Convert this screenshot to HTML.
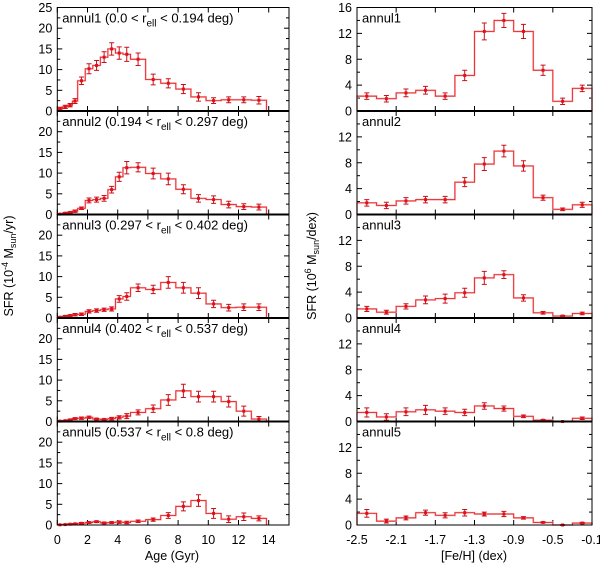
<!DOCTYPE html>
<html><head><meta charset="utf-8"><style>
html,body{margin:0;padding:0;background:#fff;}
svg{display:block;font-family:"Liberation Sans",Arial,sans-serif;}
</style></head><body>
<svg id="chart" width="600" height="567" viewBox="0 0 600 567"></svg>
<script>
// ---- data ----
const ageEdges = [0,0.35,0.7,1.0,1.35,1.85,2.35,2.85,3.35,3.85,4.35,4.85,5.85,6.85,7.85,8.85,9.85,10.85,11.85,12.85,13.85];
const ageVals1 = [0.6,1.0,1.4,2.4,7.3,10.2,11.0,13.0,15.0,14.0,13.7,12.5,7.6,6.7,5.3,3.4,2.5,2.7,2.7,2.6];
const ageErr1  = [0.3,0.4,0.4,0.6,0.9,1.2,1.2,1.3,1.5,1.5,1.7,1.5,1.3,1.1,1.1,1.0,0.7,0.7,0.7,0.9];
const ageVals2 = [0.1,0.3,0.5,0.8,1.5,3.4,3.6,3.9,6.0,9.1,11.3,11.4,9.9,8.6,6.1,3.9,3.6,2.4,1.9,1.8];
const ageErr2  = [0.1,0.2,0.2,0.3,0.3,0.6,0.6,0.7,0.8,1.1,1.5,1.1,1.3,1.4,1.1,0.9,0.9,0.8,0.7,0.7];
const ageVals3 = [0.2,0.4,0.6,0.8,0.9,1.6,1.8,2.0,2.2,4.6,5.2,7.3,6.9,8.6,7.3,6.0,3.4,2.5,2.6,2.6];
const ageErr3  = [0.1,0.2,0.2,0.3,0.3,0.4,0.4,0.4,0.5,0.8,0.9,0.9,1.0,1.4,1.3,1.3,0.9,0.8,0.8,0.8];
const ageVals4 = [0.1,0.2,0.4,0.7,0.8,1.0,0.6,0.5,0.7,1.0,1.3,2.2,3.1,5.2,7.4,6.0,6.0,4.8,2.5,0.6];
const ageErr4  = [0.1,0.1,0.2,0.2,0.3,0.3,0.2,0.2,0.3,0.4,0.6,0.6,0.9,1.3,1.6,1.3,1.3,1.3,1.2,0.6];
const ageVals5 = [0.05,0.1,0.2,0.3,0.4,0.6,0.8,0.5,0.6,0.7,0.6,0.9,1.3,2.3,4.5,5.9,2.8,1.4,2.0,1.6];
const ageErr5  = [0.05,0.1,0.1,0.1,0.2,0.2,0.2,0.2,0.2,0.3,0.3,0.3,0.4,0.7,1.1,1.4,1.2,0.8,0.9,0.6];
const feEdges = [-2.5,-2.3,-2.1,-1.9,-1.7,-1.5,-1.3,-1.1,-0.9,-0.7,-0.5,-0.3,-0.1];
const feVals1 = [2.3,1.9,2.8,3.2,2.3,5.5,12.3,14.0,12.3,6.3,1.5,3.5];
const feErr1  = [0.5,0.5,0.6,0.6,0.5,0.8,1.3,1.1,1.1,0.8,0.5,0.5];
const feVals2 = [1.8,1.4,2.1,2.3,2.3,5.0,7.8,9.8,7.5,2.6,0.8,1.5];
const feErr2  = [0.5,0.5,0.5,0.5,0.5,0.7,1.0,0.9,0.8,0.4,0.2,0.4];
const feVals3 = [1.4,0.9,1.8,2.8,3.0,3.9,6.2,6.7,3.1,0.8,0.3,0.7];
const feErr3  = [0.4,0.3,0.4,0.6,0.7,0.7,1.0,0.6,0.5,0.2,0.1,0.2];
const feVals4 = [1.4,0.7,1.5,1.8,1.6,1.4,2.4,2.0,0.8,0.2,0.0,0.5];
const feErr4  = [0.7,0.5,0.6,0.7,0.5,0.5,0.5,0.4,0.2,0.1,0.05,0.2];
const feVals5 = [1.8,0.6,1.1,1.9,1.5,1.9,1.7,1.7,1.1,0.4,0.0,0.3];
const feErr5  = [0.6,0.3,0.3,0.4,0.4,0.5,0.3,0.4,0.2,0.1,0.05,0.1];
const ageTicks = [0,2,4,6,8,10,12,14];
const feTicks = ["-2.5","-2.1","-1.7","-1.3","-0.9","-0.5","-0.1"];
const sfrTicksTop = [0,5,10,15,20,25];
const sfrTicks = [0,5,10,15,20];
const mTicksTop = [0,4,8,12,16];
const mTicks = [0,4,8,12];
const annulLabels = ["annul1 (0.0 < r","annul2 (0.194 < r","annul3 (0.297 < r","annul4 (0.402 < r","annul5 (0.537 < r"];
const annulTails = [" < 0.194 deg)"," < 0.297 deg)"," < 0.402 deg)"," < 0.537 deg)"," < 0.8 deg)"];

const ageV=[ageVals1,ageVals2,ageVals3,ageVals4,ageVals5], ageE=[ageErr1,ageErr2,ageErr3,ageErr4,ageErr5];
const feV=[feVals1,feVals2,feVals3,feVals4,feVals5], feE=[feErr1,feErr2,feErr3,feErr4,feErr5];

const svg=document.getElementById('chart');
const NS='http://www.w3.org/2000/svg';
function mk(tag,attrs,parent){const e=document.createElementNS(NS,tag);for(const k in attrs)e.setAttribute(k,attrs[k]);(parent||svg).appendChild(e);return e;}

const L={x0:57.3,x1:289,min:0,max:(289-57.3)/15.1};
const R={x0:357,x1:592,min:-2.5,max:-0.1};
const panelTop=7.5, panelH=103.5;
function xs(P,v){return P.x0+(v-P.min)/(P.max-P.min)*(P.x1-P.x0);}

function drawPanel(P,i,edges,vals,errs,ymax,yt,xt,xtLab,isLeft){
  const top=panelTop+i*panelH, bot=top+panelH;
  const ys=v=>bot-v/ymax*panelH;
  const g=mk('g',{});
  
  
  yt.forEach(t=>{
    const y=ys(t);
    mk('line',{x1:P.x0,x2:P.x0+5,y1:y,y2:y,stroke:'#000','stroke-width':1},g);
    mk('line',{x1:P.x1,x2:P.x1-5,y1:y,y2:y,stroke:'#000','stroke-width':1},g);
    const m=ys(t+(yt[1]-yt[0])/2);
    if(m>top){mk('line',{x1:P.x0,x2:P.x0+3,y1:m,y2:m,stroke:'#000'},g);mk('line',{x1:P.x1,x2:P.x1-3,y1:m,y2:m,stroke:'#000'},g);}
    const tx=mk('text',{x:P.x0-5,y:y+4.5,'text-anchor':'end','font-size':12.5,fill:'#000'},g);
    tx.textContent=t;
    
    
  });
  xt.forEach(t=>{
    const x=xs(P,+t);
    mk('line',{x1:x,x2:x,y1:bot,y2:bot-5,stroke:'#000'},g);
    mk('line',{x1:x,x2:x,y1:top,y2:top+5,stroke:'#000'},g);
  });
  let d='M'+xs(P,edges[0])+','+ys(0);
  vals.forEach((v,k)=>{d+=' L'+xs(P,edges[k])+','+ys(v)+' L'+xs(P,edges[k+1])+','+ys(v);});
  d+=' L'+xs(P,edges[edges.length-1])+','+ys(0);
  mk('path',{d:d,fill:'none',stroke:'#f8b4b4','stroke-width':1.8},g);
  const h=mk('path',{d:d,fill:'none',stroke:'#e8262a','stroke-width':0.9},g);
  
  
  vals.forEach((v,k)=>{
    const cx=(xs(P,edges[k])+xs(P,edges[k+1]))/2, e=errs[k];
    const y1=ys(v-e), y2=ys(v+e);
    const eb=mk('path',{d:`M${cx},${y1} L${cx},${y2} M${cx-2.5},${y1} L${cx+2.5},${y1} M${cx-2.5},${y2} L${cx+2.5},${y2}`,stroke:'#c8101a','stroke-width':1,fill:'none'},g);
    
    
    mk('rect',{x:cx-1.5,y:ys(v)-1.5,width:3,height:3,fill:'#e0101a'},g);
  });
  mk('rect',{x:P.x0,y:top,width:P.x1-P.x0,height:panelH,fill:'none',stroke:'#000','stroke-width':1},g);
  mk('line',{x1:P.x0,x2:P.x1,y1:bot,y2:bot,stroke:'#000','stroke-width':i<4?2:1},g);
  const lab=mk('text',{x:P.x0+5,y:top+15,'font-size':13,fill:'#000'},g);
  
  
  if(isLeft){
    lab.textContent=annulLabels[i];
    const s=mk('tspan',{'font-size':10,dy:4},lab);s.textContent='ell';
    const t=mk('tspan',{dy:-4},lab);t.textContent=annulTails[i];
  } else lab.textContent='annul'+(i+1);
  if(i===4){
    xt.forEach((t,k)=>{
      const tx=mk('text',{x:xs(P,+t),y:bot+19,'text-anchor':'middle','font-size':12.5,fill:'#000'},g);
      tx.textContent=xtLab[k];
      
      
    });
  }
}
for(let i=0;i<5;i++){
  drawPanel(L,i,ageEdges,ageV[i],ageE[i],25,i===0?sfrTicksTop:sfrTicks,ageTicks,ageTicks,true);
  drawPanel(R,i,feEdges,feV[i],feE[i],16,i===0?mTicksTop:mTicks,feTicks,feTicks,false);
}
function title(x,y,rot,name,parts){
  const t=mk('text',{x:x,y:y,'text-anchor':'middle','font-size':12.5,fill:'#000',transform:rot?`rotate(-90 ${x} ${y})`:''});
  
  
  parts.forEach(p=>{const s=mk('tspan',p[1]?{'font-size':9,dy:p[1]}:{dy:p[2]||0},t);s.textContent=p[0];});
}
title(172,560,false,'x-axis-title-age',[["Age (Gyr)"]]);
title(474,560,false,'x-axis-title-feh',[["[Fe/H] (dex)"]]);
title(13,266,true,'y-axis-title-left',[["SFR (10"],["-4",-5],[" M",0,5],["sun",3],["/yr)",0,-3]]);
title(316,266,true,'y-axis-title-right',[["SFR (10"],["6",-5],[" M",0,5],["sun",3],["/dex)",0,-3]]);
</script>
</body></html>
